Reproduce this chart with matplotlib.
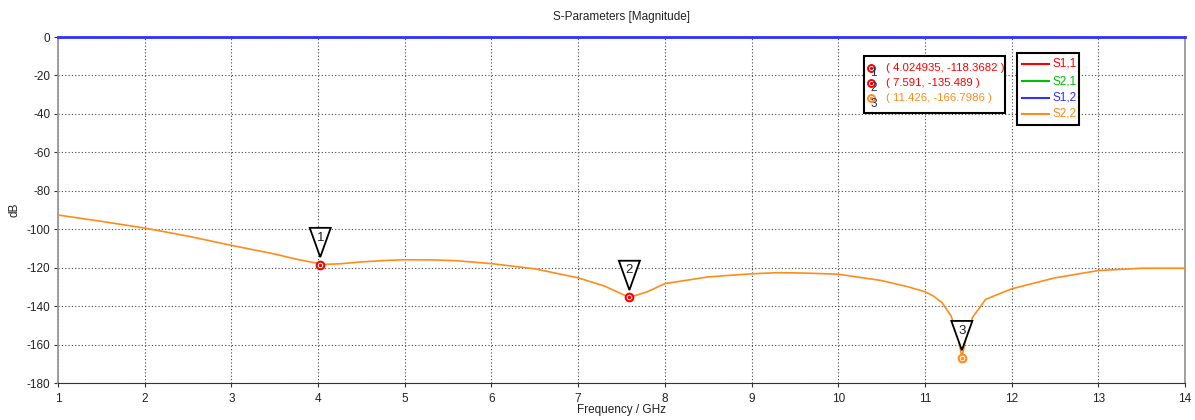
import matplotlib
matplotlib.use("Agg")
import matplotlib.pyplot as plt
import matplotlib.transforms as mtransforms
from matplotlib.patches import Polygon, Rectangle
from matplotlib.lines import Line2D

# ---- data ----
freq = [1.0, 1.5, 2.0, 2.5, 3.0, 3.5, 3.75, 4.0, 4.025, 4.25, 4.5, 4.75, 5.0, 5.35,
        5.6, 6.0, 6.5, 7.0, 7.3, 7.591, 7.8, 8.0, 8.5, 9.0, 9.3, 9.6, 10.0, 10.5,
        10.8, 11.0, 11.1, 11.2, 11.3, 11.38, 11.426, 11.48, 11.55, 11.7, 12.0, 12.5,
        13.0, 13.5, 14.0]
s22 = [-92.6, -95.9, -99.4, -103.6, -108.4, -112.9, -115.6, -117.8, -118.37, -118.0,
       -117.0, -116.3, -115.9, -116.0, -116.4, -117.9, -120.6, -125.3, -129.5, -135.5,
       -132.5, -128.3, -124.8, -123.2, -122.6, -122.8, -123.4, -126.7, -129.9, -132.5,
       -134.8, -138.3, -145.0, -155.0, -166.8, -155.0, -145.8, -136.5, -131.0, -125.3,
       -121.5, -120.3, -120.3]
flat_freq = [1.0, 14.0]
s11 = [0.0, 0.0]
s21 = [0.0, 0.0]
s12 = [0.0, 0.0]

series_names = ["S1,1", "S2,1", "S1,2", "S2,2"]
series_colors = ["#ff0000", "#00c000", "#3030ff", "#ff8c1a"]

marker_freq = [4.024935, 7.591, 11.426]
marker_val = [-118.3682, -135.489, -166.7986]
marker_labels = ["( 4.024935, -118.3682 )", "( 7.591, -135.489 )", "( 11.426, -166.7986 )"]
marker_colors = ["#ff0000", "#ff0000", "#ff8c1a"]
marker_ids = ["1", "2", "3"]

xticks = list(range(1, 15))
yticks = list(range(-180, 1, 20))

# ---- figure ----
plt.rcParams['font.family'] = ['Liberation Sans', 'DejaVu Sans']
plt.rcParams['axes.unicode_minus'] = False
W, H = 1195, 420
fig = plt.figure(figsize=(W / 100, H / 100), dpi=100)
L, R, T, B = 58, 1185, 37, 383
ax = fig.add_axes([L / W, 1 - B / H, (R - L) / W, (B - T) / H])

ax.plot(flat_freq, s11, color=series_colors[0], lw=1.5, zorder=3)
ax.plot(flat_freq, s21, color=series_colors[1], lw=1.5, zorder=3)
ax.plot(freq, s22, color=series_colors[3], lw=1.2, zorder=4)
ax.plot(flat_freq, s12, color=series_colors[2], lw=2.0, zorder=5, clip_on=False)

ax.set_xlim(1, 14)
ax.set_ylim(-180, 0)
ax.set_xticks(xticks)
ax.set_yticks(yticks)
ax.tick_params(labelsize=8.5, length=3, width=0.8, color="#333333", pad=2.5,
               labelcolor="#222222")
ax.tick_params(axis="x", pad=4.5)
ax.grid(True, color="#444444", linestyle=(0, (1, 2)), linewidth=0.8)
for s in ["left", "right"]:
    ax.spines[s].set_color("#999999")
    ax.spines[s].set_linewidth(1.3)
ax.spines["bottom"].set_color("#333333")
ax.spines["top"].set_color("#999999")
ax.set_title("S-Parameters [Magnitude]", fontsize=8.5, pad=12, color="#222222")
ax.set_xlabel("Frequency / GHz", fontsize=8.5, color="#222222")
ax.set_ylabel("dB", fontsize=8.5, color="#222222")
ax.xaxis.set_label_coords(0.5, -(404 - B) / (B - T))
ax.yaxis.set_label_coords(-(L - 21) / (R - L), 0.5)

# ---- markers ----
for f, v, c, mid in zip(marker_freq, marker_val, marker_colors, marker_ids):
    ax.plot([f], [v], marker="o", ms=5.5, mfc="white", mec=c, mew=1.5, zorder=7, clip_on=False)
    ax.plot([f], [v], marker="o", ms=1.5, mfc=c, mec=c, zorder=8, clip_on=False)
    tr = mtransforms.Affine2D() + mtransforms.ScaledTranslation(f, v, ax.transData)
    tri = Polygon([(-10.5, 36.7), (10.5, 36.7), (0, 7.4)], closed=True,
                  facecolor="white", edgecolor="black", lw=1.3, transform=tr, zorder=9)
    ax.add_patch(tri)
    ttr = mtransforms.offset_copy(ax.transData, fig=fig, x=0, y=27, units="dots")
    ax.text(f, v, mid, transform=ttr, ha="center", va="center", fontsize=9.5,
            color="#222222", zorder=10)

def fx(px):
    return px / W

def fy(py):
    return 1 - py / H

# info box
fig.patches.append(Rectangle((fx(864), fy(113.5)), fx(1005.5) - fx(864), fy(56.5) - fy(113.5),
                             transform=fig.transFigure, facecolor="white",
                             edgecolor="black", lw=1.5, zorder=20))
rows_y = [67.7, 82.7, 98.3]
for yy, lab, c, mid in zip(rows_y, marker_labels, marker_colors, marker_ids):
    fig.add_artist(Line2D([fx(870.7)], [fy(yy)], marker="o", ms=5, mfc="white", mec=c,
                          mew=1.4, transform=fig.transFigure, zorder=21))
    fig.add_artist(Line2D([fx(870.7)], [fy(yy)], marker="o", ms=1.3, mfc=c, mec=c,
                          transform=fig.transFigure, zorder=22))
    fig.text(fx(873.5), fy(yy + 5.5), mid, fontsize=8.5, color="#223355",
             ha="center", va="center", zorder=22)
    fig.text(fx(886), fy(yy), lab, fontsize=8.2, color=c, ha="left", va="center", zorder=22)

# legend box
fig.patches.append(Rectangle((fx(1017), fy(124.5)), fx(1079) - fx(1017), fy(53.5) - fy(124.5),
                             transform=fig.transFigure, facecolor="white",
                             edgecolor="black", lw=1.5, zorder=20))
leg_y = [64, 81, 97.5, 114]
for yy, name, c in zip(leg_y, series_names, series_colors):
    fig.add_artist(Line2D([fx(1022), fx(1049)], [fy(yy), fy(yy)], color=c, lw=1.5,
                          transform=fig.transFigure, zorder=21))
    fig.text(fx(1052.5), fy(yy), name, fontsize=8.5, color=c, ha="left", va="center", zorder=22)

fig.savefig("out.png", dpi=100)
